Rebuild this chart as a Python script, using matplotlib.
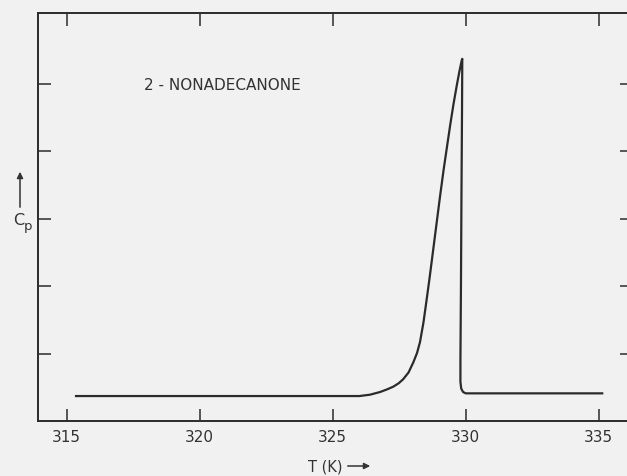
import numpy as np
import matplotlib.pyplot as plt

# heat capacity trace (arbitrary Cp units)
temp_k = [315.35, 320.0, 325.0, 326.0, 326.4, 326.78, 327.05, 327.28, 327.48,
          327.65, 327.85, 328.03, 328.17, 328.28, 328.41, 328.53, 328.65,
          328.78, 328.91, 329.04, 329.17, 329.30, 329.42, 329.54, 329.66,
          329.76, 329.85, 329.87, 329.86, 329.84, 329.82, 329.80, 329.80,
          329.83, 329.90, 330.0, 330.2, 335.13]
cp = [0.37, 0.37, 0.37, 0.37, 0.39, 0.43, 0.47, 0.51, 0.56,
      0.62, 0.72, 0.87, 1.01, 1.17, 1.46, 1.80, 2.15,
      2.55, 2.95, 3.35, 3.73, 4.08, 4.40, 4.70, 4.97,
      5.18, 5.35, 5.37, 4.60, 3.40, 2.00, 0.90, 0.58,
      0.48, 0.43, 0.41, 0.41, 0.41]
x_ticks = [315, 320, 325, 330, 335]
y_ticks = [1, 2, 3, 4, 5]

ink = "#2b2b2b"
bg = "#f1f1f1"

fig = plt.figure(figsize=(6.27, 4.77), dpi=100, facecolor=bg)
ax = fig.add_axes([38 / 627, 55 / 477, (632 - 38) / 627, (422 - 14) / 477])
ax.set_facecolor(bg)

ax.plot(temp_k, cp, color=ink, lw=1.6, solid_joinstyle="round")

ax.set_xlim(313.92, 336.25)
ax.set_ylim(0, 6.05)
ax.set_xticks(x_ticks)
ax.set_yticks(y_ticks)
ax.set_yticklabels([])
ax.tick_params(axis="both", direction="in", length=9, width=1.1, color=ink,
               top=True, right=True, labelsize=11, labelcolor="#333333")
ax.tick_params(axis="x", pad=6)
for s in ax.spines.values():
    s.set_color(ink)
    s.set_linewidth(1.4)

ax.text(0.178, 0.825, "2 - NONADECANONE", transform=ax.transAxes,
        fontsize=11, color="#333333", ha="left", va="center")

# axis captions with arrows
fig.text(325 / 627, 1 - 467 / 477, "T (K)", fontsize=10.5, color="#333333",
         ha="center", va="center")
ax.annotate("", xy=(373 / 627, 1 - 467 / 477), xytext=(345 / 627, 1 - 467 / 477),
            xycoords="figure fraction", textcoords="figure fraction",
            arrowprops=dict(arrowstyle="-|>", color="#333333", lw=1.1,
                            mutation_scale=9))
fig.text(19 / 627, 1 - 221 / 477, "C", fontsize=11.5, color="#333333",
         ha="center", va="center")
fig.text(24 / 627, 1 - 227 / 477, "p", fontsize=9.5, color="#333333",
         ha="left", va="center")
ax.annotate("", xy=(20 / 627, 1 - 170 / 477), xytext=(20 / 627, 1 - 211 / 477),
            xycoords="figure fraction", textcoords="figure fraction",
            arrowprops=dict(arrowstyle="-|>", color="#333333", lw=1.1,
                            mutation_scale=9))

fig.savefig("out.png", dpi=100, facecolor=bg)
